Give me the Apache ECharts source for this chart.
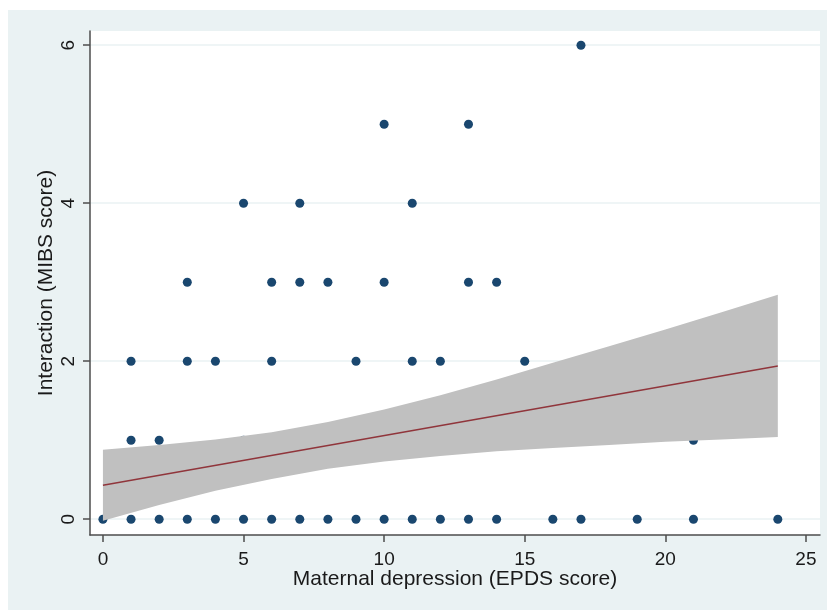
<!DOCTYPE html>
<html>

<head>
    <meta charset="UTF-8">
    <style type="text/css">
        body {
            margin: 0;
            padding: 0;
            overflow: hidden;
            background: #ffffff;
        }

        #chart {
            position: absolute;
            left: 8px;
            top: 10px;
            width: 819px;
            height: 600px;
        }
    </style>
</head>

<body>
    <div id="chart"></div>
    <script src="https://cdn.jsdelivr.net/npm/echarts@6/dist/echarts.min.js"></script>
    <script>
        // observations (EPDS score, MIBS score)
        let epds = [0, 1, 2, 3, 4, 5, 6, 7, 8, 9, 10, 11, 12, 13, 14, 16, 17, 19, 21, 24,
            1, 2, 5, 21,
            1, 3, 4, 6, 9, 11, 12, 15,
            3, 6, 7, 8, 10, 13, 14,
            5, 7, 11,
            10, 13,
            17];
        let mibs = [0, 0, 0, 0, 0, 0, 0, 0, 0, 0, 0, 0, 0, 0, 0, 0, 0, 0, 0, 0,
            1, 1, 1, 1,
            2, 2, 2, 2, 2, 2, 2, 2,
            3, 3, 3, 3, 3, 3, 3,
            4, 4, 4,
            5, 5,
            6];

        // fitted line and 95% CI band
        let fitX = [0, 24];
        let fitY = [0.43, 1.94];
        let bandX = [0, 2, 4, 6, 8, 10, 12, 14, 16, 18, 20, 22, 24];
        let bandLow = [-0.02, 0.18, 0.36, 0.51, 0.64, 0.73, 0.80, 0.86, 0.90, 0.94, 0.98, 1.01, 1.04];
        let bandHigh = [0.88, 0.94, 1.01, 1.10, 1.23, 1.39, 1.57, 1.77, 1.98, 2.19, 2.40, 2.62, 2.84];

        let xTicks = [0, 5, 10, 15, 20, 25];
        let yTicks = [0, 2, 4, 6];

        let AXIS = '#4d4d4d';
        let FONT = 'Liberation Sans, Arial, sans-serif';

        var myChart = echarts.init(document.getElementById('chart'));

        let points = epds.map((x, i) => [x, mibs[i]]);
        let bandData = bandX.map((x, i) => [x, bandLow[i], bandHigh[i]]);
        let fitData = fitX.map((x, i) => [x, fitY[i]]);

        function renderBand(params, api) {
            if (params.dataIndex !== 0) return;
            let upper = [];
            let lower = [];
            bandData.forEach(d => {
                upper.push(api.coord([d[0], d[2]]));
                lower.push(api.coord([d[0], d[1]]));
            });
            return {
                type: 'polygon',
                shape: { points: upper.concat(lower.reverse()) },
                style: { fill: '#c0c0c0' }
            };
        }

        let option = {
            backgroundColor: '#eaf2f3',
            animation: false,
            grid: {
                left: 82,
                top: 21,
                right: 7,
                bottom: 75,
                show: true,
                backgroundColor: '#ffffff',
                borderWidth: 0
            },
            xAxis: {
                type: 'value',
                min: -0.46,
                max: 25.5,
                name: 'Maternal depression (EPDS score)',
                nameLocation: 'middle',
                nameGap: 34,
                nameMoveOverlap: false,
                nameTextStyle: { fontFamily: FONT, fontSize: 21, color: '#1a1a1a' },
                axisLine: { show: true, onZero: false, lineStyle: { color: AXIS, width: 1.5 } },
                axisTick: { show: true, length: 7, customValues: xTicks, lineStyle: { color: AXIS, width: 1.5 } },
                axisLabel: { customValues: xTicks, margin: 15, fontFamily: FONT, fontSize: 19, color: '#1a1a1a' },
                splitLine: { show: false }
            },
            yAxis: {
                type: 'value',
                min: -0.2,
                max: 6.18,
                name: 'Interaction (MIBS score)',
                nameLocation: 'middle',
                nameGap: 33,
                nameMoveOverlap: false,
                nameTextStyle: { fontFamily: FONT, fontSize: 21, color: '#1a1a1a' },
                axisLine: { show: true, onZero: false, lineStyle: { color: AXIS, width: 1.5 } },
                axisTick: { show: true, length: 7, customValues: yTicks, lineStyle: { color: AXIS, width: 1.5 } },
                axisLabel: { customValues: yTicks, rotate: 90, margin: 12, fontFamily: FONT, fontSize: 19, color: '#1a1a1a' },
                splitLine: { show: true, lineStyle: { color: '#eaf2f3', width: 1.5 } }
            },
            series: [
                {
                    type: 'scatter',
                    z: 1,
                    data: points,
                    symbolSize: 9,
                    itemStyle: { color: '#1a476f', opacity: 1 }
                },
                {
                    type: 'custom',
                    z: 3,
                    data: bandData,
                    renderItem: renderBand,
                    encode: { x: 0, y: [1, 2] }
                },
                {
                    type: 'line',
                    z: 4,
                    data: fitData,
                    symbol: 'none',
                    lineStyle: { color: '#90353b', width: 1.5 }
                }
            ]
        };
        myChart.setOption(option);
        window.onresize = myChart.resize;
    </script>
</body>

</html>
